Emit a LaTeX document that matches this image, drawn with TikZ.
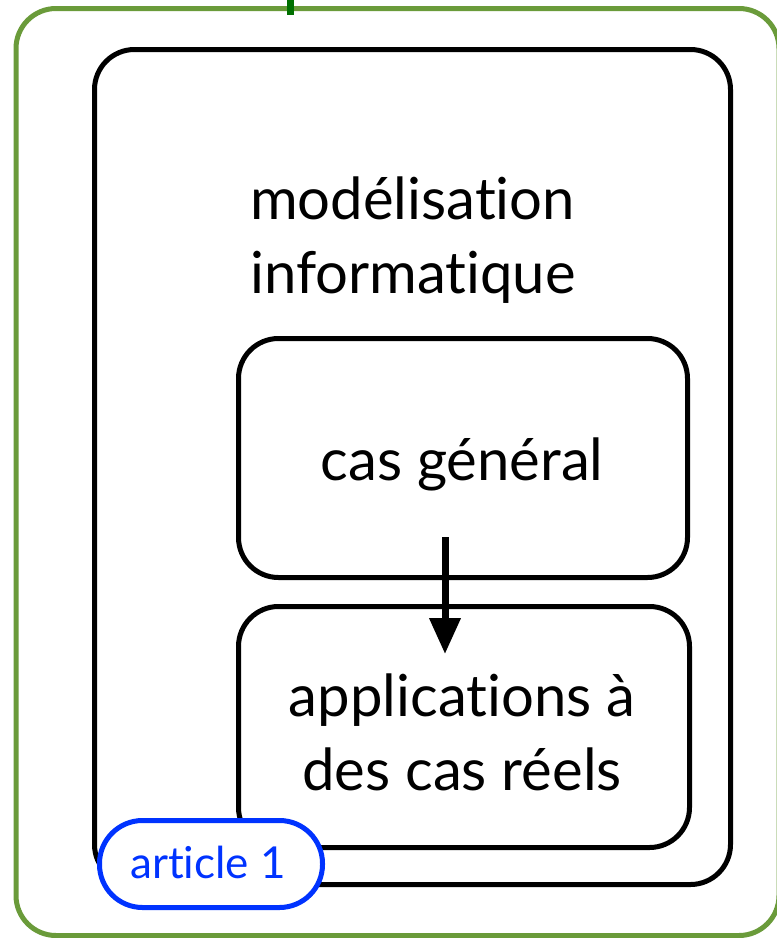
\documentclass[tikz,border=0pt]{standalone}
\usepackage{fontspec}
\setmainfont{Lato}[Ligatures=NoCommon]
\usetikzlibrary{arrows.meta}
\definecolor{frameGreen}{HTML}{6A9B3A}
\definecolor{tickGreen}{HTML}{007000}
\definecolor{tagBlue}{HTML}{0033FF}
\begin{document}
\begin{tikzpicture}[x=1pt,y=-1pt,
  box/.style={draw=black,line width=5pt,rounded corners=40pt,inner sep=0pt,outer sep=0pt},
  lbl/.style={font=\fontsize{58}{74}\selectfont,align=center,inner sep=0pt},
  tag/.style={draw=tagBlue,line width=5pt,fill=white,rounded corners=43pt,inner sep=0pt}
]
\useasboundingbox (0,0) rectangle (777,938);
\begin{scope}
\clip (0,0) rectangle (777,938);
% outer green frame and its connecting tick
\draw[frameGreen,line width=5pt,rounded corners=40pt] (16,8.5) rectangle (779,935.5);
\draw[tickGreen,line width=7pt] (290,0) -- (290,15);
\end{scope}
% modelling box
\node[box,minimum width=636pt,minimum height=835pt] (model) at (412.5,467) {};
\node[lbl,align=left,anchor=north west] (modtxt) at (250,177) {modélisation\\informatique};
% general case
\node[box,minimum width=449pt,minimum height=239pt] (gen) at (463,458) {};
\node[lbl] (gentxt) at (462,464) {cas général};
% real cases
\node[box,minimum width=451pt,minimum height=241pt] (app) at (464,727) {};
\node[lbl] (apptxt) at (462,732) {applications à\\des cas réels};
\coordinate (arrS) at (445,537);
\coordinate (arrE) at (445,654);
\draw[line width=7pt,-{Triangle[length=36pt,width=30pt]}] (arrS) -- (arrE);
% article tag
\node[tag,minimum width=223pt,minimum height=87pt] (art) at (211,864) {};
\node[text=tagBlue,font=\fontsize{44}{50}\selectfont,inner sep=0pt] (arttxt) at (208,862) {article 1};
\end{tikzpicture}
\end{document}
